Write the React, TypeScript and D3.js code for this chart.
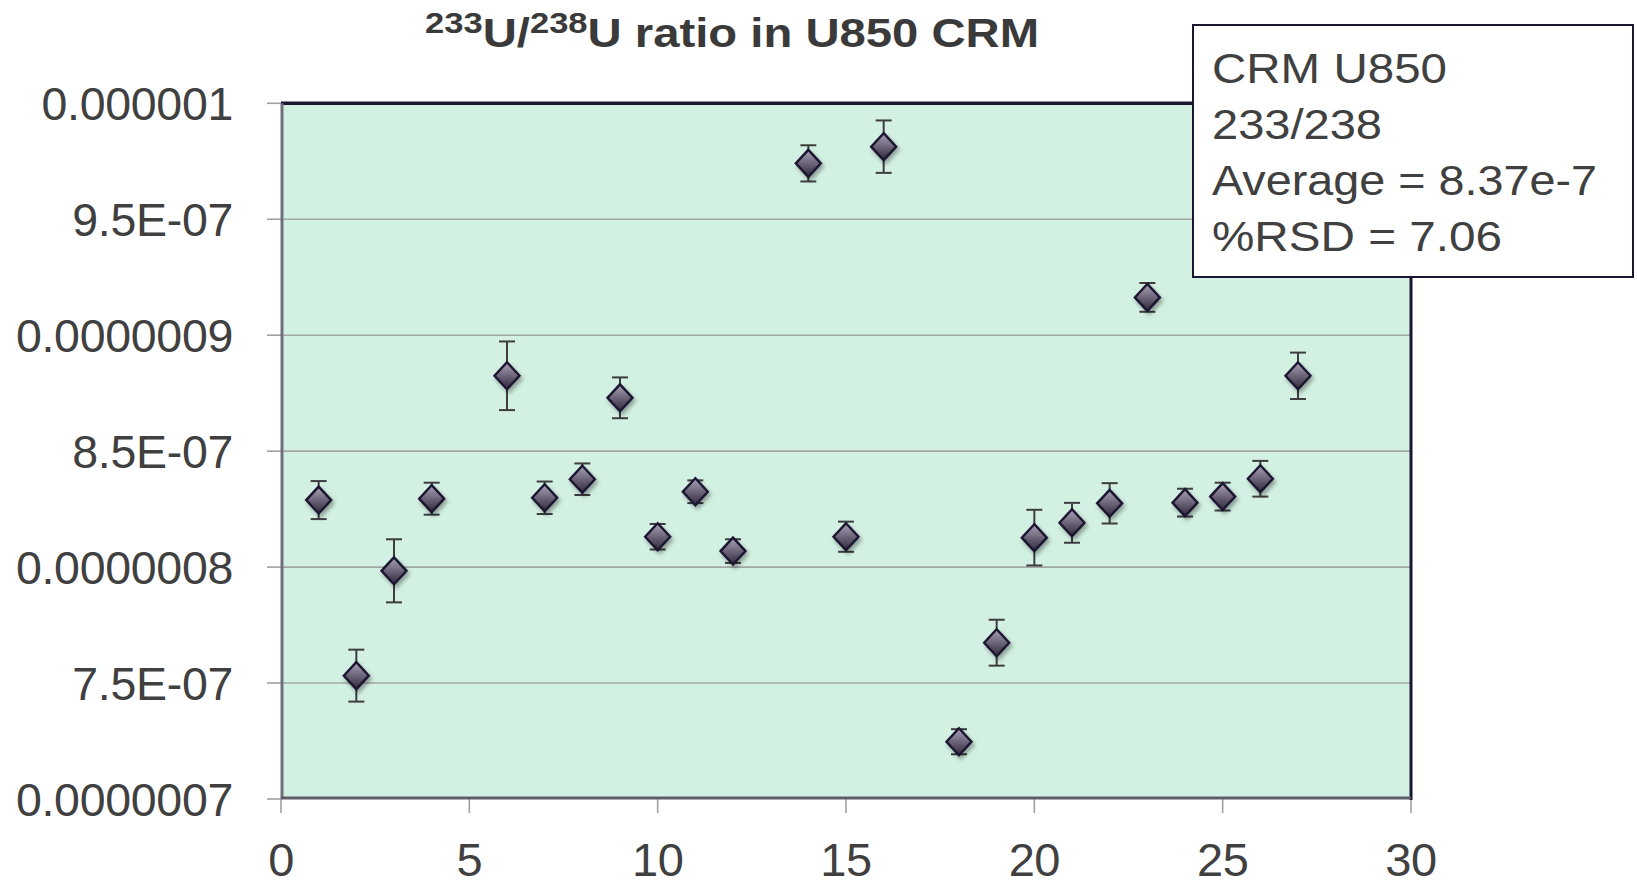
import React from "react";
import * as d3 from "d3";

const runs = [1, 2, 3, 4, 6, 7, 8, 9, 10, 11, 12, 14, 15, 16, 18, 19, 20, 21, 22, 23, 24, 25, 26, 27];
const ratios = [
  8.289e-7, 7.532e-7, 7.984e-7, 8.295e-7, 8.825e-7, 8.299e-7, 8.379e-7, 8.73e-7,
  8.131e-7, 8.325e-7, 8.069e-7, 9.741e-7, 8.131e-7, 9.813e-7, 7.247e-7, 7.674e-7,
  8.127e-7, 8.191e-7, 8.275e-7, 9.163e-7, 8.278e-7, 8.304e-7, 8.381e-7, 8.825e-7,
];
const errors = [
  0.82e-8, 1.12e-8, 1.36e-8, 0.69e-8, 1.48e-8, 0.7e-8, 0.68e-8, 0.88e-8,
  0.55e-8, 0.49e-8, 0.51e-8, 0.78e-8, 0.65e-8, 1.13e-8, 0.54e-8, 0.99e-8,
  1.2e-8, 0.86e-8, 0.87e-8, 0.62e-8, 0.6e-8, 0.6e-8, 0.77e-8, 1.0e-8,
];
const yTickValues = [7e-7, 7.5e-7, 8e-7, 8.5e-7, 9e-7, 9.5e-7, 1e-6];
const yTickLabels = ["0.0000007", "7.5E-07", "0.0000008", "8.5E-07", "0.0000009", "9.5E-07", "0.000001"];
const xTickValues = [0, 5, 10, 15, 20, 25, 30];
const legendLines = ["CRM U850", "233/238", "Average = 8.37e-7", "%RSD = 7.06"];
const legendWidths = [235, 170, 385, 290];

const W = 1637;
const H = 881;
const plot = { left: 281, right: 1411, top: 103.3, bottom: 799 };
const FONT = "'Liberation Sans', Arial, Helvetica, sans-serif";
const TEXT = "#404040";

export default function App() {
  const x = d3.scaleLinear().domain([0, 30]).range([plot.left, plot.right]);
  const y = d3.scaleLinear().domain([7e-7, 1e-6]).range([plot.bottom, plot.top]);
  const diamond = (cx: number, cy: number) => {
    const hw = 12.5, hh = 13.5;
    return `M${cx},${cy - hh}L${cx + hw},${cy}L${cx},${cy + hh}L${cx - hw},${cy}Z`;
  };
  return (
    <svg width={W} height={H} style={{ position: "absolute", left: 0, top: 0, background: "#fff" }}>
      <defs>
        <linearGradient id="dg" x1="0" y1="0" x2="0" y2="1">
          <stop offset="0" stopColor="#aaa4b8" />
          <stop offset="0.5" stopColor="#6c6579" />
          <stop offset="1" stopColor="#2f2839" />
        </linearGradient>
        <filter id="sh" x="-50%" y="-50%" width="200%" height="200%">
          <feDropShadow dx="2" dy="3" stdDeviation="2" floodColor="#000" floodOpacity="0.35" />
        </filter>
      </defs>
      <rect x={plot.left} y={plot.top} width={plot.right - plot.left} height={plot.bottom - plot.top} fill="#d3f1e3" />
      {yTickValues.slice(1, -1).map((v) => (
        <line key={v} x1={plot.left} x2={plot.right} y1={y(v)} y2={y(v)} stroke="#a3a8a6" strokeWidth={1.6} />
      ))}
      {yTickValues.map((v) => (
        <line key={"yt" + v} x1={267} x2={plot.left} y1={y(v)} y2={y(v)} stroke="#a0a0a0" strokeWidth={1.6} />
      ))}
      {xTickValues.map((v) => (
        <line key={"xt" + v} x1={x(v)} x2={x(v)} y1={plot.bottom} y2={813} stroke="#a0a0a0" strokeWidth={1.6} />
      ))}
      <line x1={plot.left} x2={plot.right} y1={plot.top} y2={plot.top} stroke="#1c1530" strokeWidth={3.5} />
      <line x1={plot.right} x2={plot.right} y1={plot.top} y2={plot.bottom + 1} stroke="#1c1530" strokeWidth={3} />
      <line x1={plot.left + 1} x2={plot.left + 1} y1={plot.top} y2={plot.bottom} stroke="#70707c" strokeWidth={3} />
      <line x1={plot.left} x2={plot.right} y1={plot.bottom - 1} y2={plot.bottom - 1} stroke="#5c5c6a" strokeWidth={3} />
      {runs.map((r, i) => {
        const cx = x(r);
        const t = y(ratios[i] + errors[i]);
        const b = y(ratios[i] - errors[i]);
        return (
          <g key={"e" + r} stroke="#3d3d40" strokeWidth={2}>
            <line x1={cx} x2={cx} y1={t} y2={b} />
            <line x1={cx - 8} x2={cx + 8} y1={t} y2={t} />
            <line x1={cx - 8} x2={cx + 8} y1={b} y2={b} />
          </g>
        );
      })}
      {runs.map((r, i) => (
        <path key={"d" + r} d={diamond(x(r), y(ratios[i]))} fill="url(#dg)" stroke="#1c1530" strokeWidth={2.4} filter="url(#sh)" />
      ))}
      {yTickValues.map((v, i) => (
        <text key={"yl" + v} x={233} y={y(v) + 16.5} textAnchor="end" fontFamily={FONT} fontSize={46.5} fill={TEXT} letterSpacing={-0.3}>
          {yTickLabels[i]}
        </text>
      ))}
      {xTickValues.map((v) => (
        <text key={"xl" + v} x={x(v)} y={876} textAnchor="middle" fontFamily={FONT} fontSize={47} fill={TEXT} letterSpacing={-0.5}>
          {String(v)}
        </text>
      ))}
      <text x={425} y={47} fontFamily={FONT} fontWeight="bold" fontSize={41} fill="#3a3a3a" textLength={614} lengthAdjust="spacingAndGlyphs">
        <tspan fontSize={30} dy={-14}>233</tspan>
        <tspan dy={14}>U/</tspan>
        <tspan fontSize={30} dy={-14}>238</tspan>
        <tspan dy={14}>U ratio in U850 CRM</tspan>
      </text>
      <rect x={1193} y={25} width={440} height={252} fill="#fff" stroke="#1c1530" strokeWidth={2} />
      {legendLines.map((s, i) => (
        <text key={s} x={1212} y={83.3 + i * 55.8} fontFamily={FONT} fontSize={42} fill={TEXT} textLength={legendWidths[i]} lengthAdjust="spacingAndGlyphs">
          {s}
        </text>
      ))}
    </svg>
  );
}
